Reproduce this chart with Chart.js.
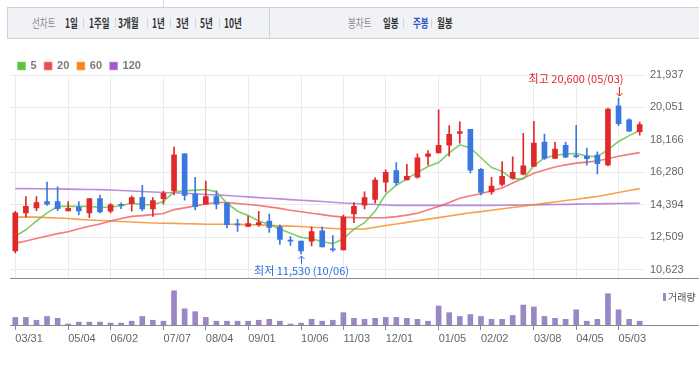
<!DOCTYPE html>
<html lang="ko">
<head>
<meta charset="utf-8">
<script src="https://cdn.jsdelivr.net/npm/chart.js@4.4.1/dist/chart.umd.min.js"></script>
<style>
  html, body { margin: 0; padding: 0; background: #fff; }
  body { width: 699px; height: 365px; position: relative; overflow: hidden; font-family: "Noto Sans CJK KR", sans-serif; }
  #topline { position: absolute; left: 163px; top: 0; width: 1px; height: 7px; background: #dcdcdc; }
  #tabs { position: absolute; left: 7px; top: 7px; width: 720px; height: 30px; background: #f1f2f6; border: 1px solid #cdd0d6; }
  #tabs .div { position: absolute; left: 261px; top: 0; width: 1px; height: 30px; background: #cdd0d6; }
  .t { position: absolute; top: 14px; font-size: 12.5px; line-height: 17px; white-space: nowrap; transform: scaleX(0.68); transform-origin: left center; color: #333; font-weight: bold; }
  .t.g { color: #8a8a8a; font-weight: normal; }
  .t.on { color: #2b58c8; }
  .sep { position: absolute; top: 18px; width: 1px; height: 10px; background: #d3d5da; }
  canvas { position: absolute; left: 0; }
  #price { top: 0; }
  #volume { top: 280px; }
</style>
</head>
<body>
<div id="topline"></div>
<div id="tabs"><div class="div"></div></div>
<span class="t g" style="left:32px">선차트</span>
<span class="t" style="left:65px">1일</span><div class="sep" style="left:83px"></div>
<span class="t" style="left:89px">1주일</span><div class="sep" style="left:115px"></div>
<span class="t" style="left:118px">3개월</span><div class="sep" style="left:147px"></div>
<span class="t" style="left:152px">1년</span><div class="sep" style="left:170px"></div>
<span class="t" style="left:176px">3년</span><div class="sep" style="left:195px"></div>
<span class="t" style="left:200px">5년</span><div class="sep" style="left:219px"></div>
<span class="t" style="left:224px">10년</span>
<span class="t g" style="left:348px">봉차트</span>
<span class="t" style="left:383px">일봉</span><div class="sep" style="left:403px"></div>
<span class="t on" style="left:413px">주봉</span><div class="sep" style="left:431px"></div>
<span class="t" style="left:437px">월봉</span>

<canvas id="price" width="699" height="290"></canvas>
<canvas id="volume" width="699" height="85"></canvas>

<script>
// weekly candles, only month-start weeks carry a label
const weeks = ['03/31', '', '', '', '', '05/04', '', '', '', '06/02',
    '', '', '', '', '07/07', '', '', '', '08/04', '',
    '', '', '09/01', '', '', '', '', '10/06', '', '',
    '', '11/03', '', '', '', '12/01', '', '', '', '',
    '01/05', '', '', '', '02/02', '', '', '', '', '03/08',
    '', '', '', '04/05', '', '', '', '05/03', '', ''];

const opens = [11715, 13921, 14204, 14582, 14582, 14034, 14260, 13921, 14752, 14017,
    14413, 14452, 14825, 14147, 14752, 15204, 17354, 15018, 14430, 14865,
    14486, 13281, 13129, 13242, 13451, 13112, 12337, 12280, 12280, 12885,
    11828, 11771, 13864, 14373, 14712, 15713, 16375, 15844, 15996, 17201,
    17410, 17863, 18541, 18785, 16449, 15148, 15583, 15940, 16166, 16618,
    18032, 17088, 17845, 17258, 17224, 17280, 16715, 20142, 19333, 18638];
const highs = [14017, 14865, 14865, 15713, 15431, 14582, 14582, 14752, 14961, 14469,
    14509, 14905, 15527, 14808, 15187, 17750, 17354, 15996, 15770, 15204,
    14486, 13547, 13734, 14017, 13847, 13225, 12546, 12280, 13112, 13112,
    12603, 13790, 14526, 15148, 15957, 16432, 16845, 16748, 17354, 17540,
    19916, 18994, 19220, 18785, 16505, 15996, 16901, 17184, 18541, 19237,
    18502, 18032, 18032, 19011, 17693, 17467, 20012, 20600, 19390, 19203];
const lows = [11601, 13677, 14056, 14356, 14056, 14034, 13807, 13638, 13921, 13921,
    14169, 14017, 14034, 13717, 14430, 14961, 14656, 14090, 14430, 14147,
    13055, 12846, 13129, 13129, 12789, 12094, 12037, 11530, 11997, 11941,
    11680, 11771, 13355, 14147, 14486, 15148, 15527, 15844, 15940, 16692,
    17410, 17224, 17976, 16239, 14961, 14995, 15487, 15900, 16126, 16618,
    17031, 17088, 17127, 17127, 16692, 16183, 16658, 18994, 18636, 18445];
const closes = [13921, 14299, 14526, 14430, 14169, 14186, 14034, 14752, 13977, 14396,
    14356, 14808, 14147, 14639, 15052, 17297, 14939, 14282, 14865, 14430,
    13242, 13225, 13298, 13355, 13072, 12376, 12280, 11715, 12829, 11941,
    11771, 13677, 14299, 14808, 15827, 16279, 15674, 16053, 17127, 17354,
    17845, 18485, 18655, 16409, 15108, 15487, 16053, 16279, 16658, 17976,
    17088, 17636, 17167, 17184, 17071, 16788, 19955, 19107, 18672, 19050];

// moving averages
const ma5 = [12563, 12942, 13451, 13920, 14299, 14299, 14299, 14299, 14243, 14260,
    14339, 14486, 14396, 14396, 14582, 15148, 15204, 15244, 15278, 15148,
    14486, 14017, 13773, 13451, 13264, 12982, 12733, 12506, 12416, 12263,
    12133, 12416, 12982, 13355, 14017, 15006, 15527, 15900, 16279, 16618,
    16845, 17410, 17880, 17693, 17127, 16562, 16336, 15900, 15900, 16658,
    17127, 17257, 17354, 17371, 17224, 17184, 17597, 18072, 18411, 18728];
const ma20 = [12150, 12292, 12433, 12574, 12716, 12829, 12999, 13140, 13281, 13451,
    13592, 13717, 13762, 13819, 13887, 14113, 14215, 14328, 14441, 14526,
    14526, 14469, 14413, 14356, 14271, 14186, 14073, 13988, 13903, 13819,
    13734, 13677, 13649, 13638, 13638, 13649, 13706, 13790, 13903, 14101,
    14299, 14526, 14769, 14922, 15035, 15204, 15374, 15657, 15940, 16222,
    16420, 16590, 16715, 16816, 16873, 16941, 17071, 17212, 17325, 17427];
const ma60 = [13677, 13677, 13677, 13649, 13621, 13592, 13547, 13508, 13479, 13451,
    13423, 13394, 13366, 13338, 13321, 13310, 13293, 13281, 13264, 13264,
    13264, 13253, 13236, 13225, 13196, 13168, 13151, 13129, 13083, 13055,
    13015, 12982, 12982, 12982, 13089, 13185, 13276, 13372, 13462, 13558,
    13649, 13739, 13836, 13926, 13994, 14079, 14158, 14232, 14316, 14396,
    14475, 14554, 14639, 14718, 14797, 14876, 14995, 15108, 15221, 15334];
const ma120 = [15334, 15334, 15328, 15317, 15317, 15306, 15289, 15278, 15272, 15250,
    15221, 15193, 15165, 15136, 15108, 15091, 15063, 15035, 14995, 14967,
    14933, 14893, 14854, 14808, 14774, 14735, 14695, 14656, 14622, 14582,
    14543, 14497, 14469, 14441, 14413, 14384, 14356, 14356, 14356, 14356,
    14356, 14356, 14356, 14356, 14356, 14356, 14362, 14373, 14379, 14390,
    14401, 14413, 14418, 14430, 14441, 14447, 14458, 14469, 14475, 14486];

const volumes = [24, 24, 15, 27, 21, 3, 9, 9, 9, 6,
    6, 12, 27, 15, 12, 108, 51, 42, 24, 12,
    12, 12, 12, 15, 18, 12, 3, 6, 18, 12,
    15, 39, 21, 18, 21, 24, 24, 21, 18, 12,
    60, 39, 27, 33, 27, 18, 18, 30, 63, 57,
    27, 21, 18, 48, 12, 18, 99, 48, 18, 12];

const priceTicks = [10623, 12509, 14394, 16280, 18166, 20051, 21937];
const priceTickLabels = ['10,623', '12,509', '14,394', '16,280', '18,166', '20,051', '21,937'];

const highIdx = 57, highText = '최고 20,600 (05/03)';
const lowIdx = 27, lowText = '최저 11,530 (10/06)';

const UP = '#e0292b', DOWN = '#3a78e0', GRID = '#ebebeb', AXIS = '#8a8a8a';
const candleColors = opens.map((o, i) => closes[i] >= o ? UP : DOWN);
const numFont = 'Liberation Sans';

function maLine(label, data, color, lineColor) {
    return { type: 'line', label: label, data: data, borderColor: lineColor, backgroundColor: color,
        borderWidth: 1.6, pointRadius: 0, tension: 0, order: 2 };
}

// high / low markers and the full-width panel separator
const markers = {
    id: 'markers',
    afterDraw(chart) {
        const { ctx, chartArea } = chart;
        const x = chart.scales.x, y = chart.scales.y;
        ctx.save();
        ctx.strokeStyle = AXIS;
        ctx.lineWidth = 1;
        const by = Math.round(chartArea.bottom) + 0.5;
        ctx.beginPath(); ctx.moveTo(chartArea.left, by); ctx.lineTo(chart.width, by); ctx.stroke();

        ctx.font = '11px "Noto Sans CJK KR"';
        ctx.textBaseline = 'middle';

        const hx = Math.round(x.getPixelForValue(highIdx)) + 0.5;
        const hy = y.getPixelForValue(highs[highIdx]);
        ctx.strokeStyle = ctx.fillStyle = '#e0262b';
        ctx.beginPath();
        ctx.moveTo(hx, hy - 11); ctx.lineTo(hx, hy - 2);
        ctx.moveTo(hx - 3, hy - 5); ctx.lineTo(hx, hy - 2); ctx.lineTo(hx + 3, hy - 5);
        ctx.stroke();
        ctx.textAlign = 'right';
        ctx.fillText(highText, hx + 4, hy - 19);

        const lx = Math.round(x.getPixelForValue(lowIdx)) + 0.5;
        const ly = y.getPixelForValue(lows[lowIdx]);
        ctx.strokeStyle = ctx.fillStyle = '#2a6ee0';
        ctx.beginPath();
        ctx.moveTo(lx, ly + 10); ctx.lineTo(lx, ly + 2);
        ctx.moveTo(lx - 3, ly + 5); ctx.lineTo(lx, ly + 2); ctx.lineTo(lx + 3, ly + 5);
        ctx.stroke();
        ctx.textAlign = 'center';
        ctx.fillText(lowText, lx, ly + 17);
        ctx.restore();
    }
};

new Chart(document.getElementById('price'), {
    type: 'bar',
    data: {
        labels: weeks,
        datasets: [
            { label: 'wick', data: lows.map((l, i) => [l, highs[i]]), backgroundColor: candleColors,
              barThickness: 1, grouped: false, order: 1 },
            { label: 'body', data: opens.map((o, i) => [o, closes[i]]), backgroundColor: candleColors,
              barThickness: 5, minBarLength: 1, grouped: false, order: 0 },
            maLine('5', ma5, '#5ec13e', 'rgba(98,194,68,0.8)'),
            maLine('20', ma20, '#ee4c4c', 'rgba(239,79,79,0.75)'),
            maLine('60', ma60, '#f5871c', 'rgba(246,138,30,0.8)'),
            maLine('120', ma120, '#9e5ad1', 'rgba(157,92,208,0.7)')
        ]
    },
    options: {
        responsive: false,
        animation: false,
        layout: { padding: { left: 10, top: 52.5, right: 0, bottom: 6 } },
        plugins: {
            legend: {
                position: 'top',
                align: 'start',
                maxHeight: 22.5,
                labels: {
                    filter: item => ['5', '20', '60', '120'].includes(item.text),
                    boxWidth: 7, boxHeight: 7, padding: 8,
                    color: '#7a7a7a',
                    font: { family: numFont, size: 11, weight: 'bold' }
                }
            },
            tooltip: { enabled: false }
        },
        scales: {
            x: {
                offset: true,
                grid: { offset: false, drawTicks: false, color: c => weeks[c.index] ? GRID : 'transparent' },
                ticks: { display: false, autoSkip: false },
                border: { color: AXIS }
            },
            y: {
                position: 'right',
                min: 10114,
                max: 21937,
                afterBuildTicks: s => { s.ticks = priceTicks.map(v => ({ value: v })); },
                afterFit: s => { s.width = 54; },
                ticks: { callback: (v, i) => priceTickLabels[i], padding: 5, color: '#666',
                         font: { family: numFont, size: 11 } },
                grid: { color: GRID, drawTicks: false },
                border: { display: false }
            }
        }
    },
    plugins: [markers]
});

// small legend in the right margin of the volume panel
const volLegend = {
    id: 'volLegend',
    afterDraw(chart) {
        const ctx = chart.ctx;
        ctx.save();
        ctx.fillStyle = '#9b87c6';
        ctx.fillRect(663, 13, 3, 8);
        ctx.fillStyle = '#555';
        ctx.font = '10px "Noto Sans CJK KR"';
        ctx.textBaseline = 'middle';
        ctx.textAlign = 'left';
        ctx.fillText('거래량', 668, 17);
        const by = Math.round(chart.chartArea.bottom) + 0.5;
        ctx.strokeStyle = AXIS;
        ctx.beginPath(); ctx.moveTo(chart.chartArea.left, by); ctx.lineTo(chart.width, by); ctx.stroke();
        ctx.restore();
    }
};

new Chart(document.getElementById('volume'), {
    type: 'bar',
    data: {
        labels: weeks,
        datasets: [{ label: '거래량', data: volumes, backgroundColor: '#9b87c6', barThickness: 5 }]
    },
    options: {
        responsive: false,
        animation: false,
        layout: { padding: { left: 10, right: 54, top: 7, bottom: 17.8 } },
        plugins: { legend: { display: false }, tooltip: { enabled: false } },
        scales: {
            x: {
                offset: true,
                grid: { offset: false, drawOnChartArea: false, tickLength: 5,
                        tickColor: c => weeks[c.index] ? AXIS : 'transparent' },
                border: { color: AXIS },
                ticks: { autoSkip: false, maxRotation: 0, align: 'start', padding: 2, color: '#666',
                         font: { family: numFont, size: 11 } }
            },
            y: { display: false, min: 0, max: 120 }
        }
    },
    plugins: [volLegend]
});
</script>
</body>
</html>
